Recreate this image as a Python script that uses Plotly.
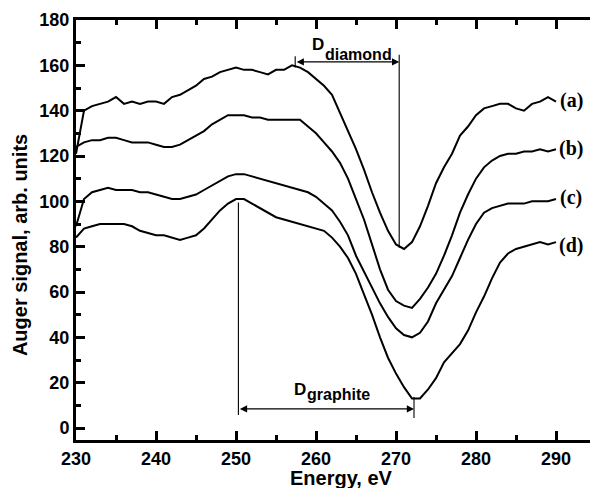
import plotly.graph_objects as go

# ---- data ----
energy = list(range(230, 291))

curve_a = [121, 140, 142, 143, 144, 146, 143, 144, 143, 144,
           144, 143, 146, 147, 149, 151, 154, 155, 157, 158,
           159, 158, 158, 157, 156, 158, 158, 160, 159, 157,
           154, 151, 147, 139, 131, 123, 114, 104, 95, 87,
           81, 79, 82, 89, 98, 108, 115, 121, 129, 133,
           138, 141, 142, 143, 143, 141, 140, 143, 144, 146,
           144]
curve_b = [124, 126, 127, 127, 128, 128, 127, 126, 126, 126,
           125, 124, 124, 125, 127, 129, 131, 134, 136, 138,
           138, 138, 137, 137, 136, 136, 136, 136, 136, 133,
           130, 126, 122, 117, 110, 101, 92, 81, 70, 61,
           56, 54, 53, 57, 62, 68, 76, 85, 95, 103,
           110, 115, 118, 120, 121, 121, 122, 122, 123, 122,
           123]
curve_c = [89, 101, 104, 105, 106, 105, 105, 105, 104, 104,
           103, 102, 101, 101, 102, 103, 105, 107, 109, 111,
           112, 112, 111, 110, 109, 108, 107, 106, 105, 104,
           102, 99, 96, 91, 85, 76, 69, 62, 55, 49,
           44, 41, 40, 42, 47, 55, 61, 67, 75, 83,
           90, 95, 97, 98, 99, 99, 99, 100, 100, 100,
           101]
curve_d = [84, 88, 89, 90, 90, 90, 90, 89, 87, 86,
           85, 85, 84, 83, 84, 85, 88, 92, 96, 99,
           101, 101, 99, 97, 95, 93, 92, 91, 90, 89,
           88, 87, 84, 80, 75, 68, 59, 50, 40, 31,
           24, 18, 13, 13, 17, 22, 29, 33, 37, 43,
           51, 58, 66, 73, 77, 79, 80, 81, 82, 81,
           82]

curve_labels = ["(a)", "(b)", "(c)", "(d)"]
label_x = 291.9
label_y = [144.7, 123.1, 101.5, 80.7]

# D_diamond marker
dia_left, dia_right, dia_arrow_y = 257.4, 270.4, 161.5
dia_line_top, dia_line_bottom = 164.7, 79.5
dia_tick_top, dia_tick_bottom = 164.0, 159.0
# D_graphite marker
gra_left, gra_right, gra_arrow_y = 250.3, 272.25, 8.4
gra_line_top, gra_line_bottom = 99.5, 5.7
gra_tick_top, gra_tick_bottom = 13.7, 4.4

x_range = [230, 294.25]
y_range = [-5.294, 180]

FONT = "Liberation Sans, Arial, sans-serif"

fig = go.Figure()
for vals in (curve_a, curve_b, curve_c, curve_d):
    fig.add_trace(go.Scatter(x=energy, y=vals, mode="lines",
                             line=dict(color="black", width=2),
                             showlegend=False, hoverinfo="skip"))

thin = dict(color="black", width=1.1)
shapes = [
    dict(type="line", xref="x", yref="y", x0=dia_right, x1=dia_right,
         y0=dia_line_bottom, y1=dia_line_top, line=thin),
    dict(type="line", xref="x", yref="y", x0=dia_left, x1=dia_left,
         y0=dia_tick_bottom, y1=dia_tick_top, line=thin),
    dict(type="line", xref="x", yref="y", x0=gra_left, x1=gra_left,
         y0=gra_line_bottom, y1=gra_line_top, line=thin),
    dict(type="line", xref="x", yref="y", x0=gra_right, x1=gra_right,
         y0=gra_tick_bottom, y1=gra_tick_top, line=thin),
]

ann = []
# double-headed arrows
for (x0, x1, yy) in ((dia_left, dia_right, dia_arrow_y), (gra_left, gra_right, gra_arrow_y)):
    ann.append(dict(x=x1, y=yy, ax=x0, ay=yy, xref="x", yref="y", axref="x", ayref="y",
                    text="", showarrow=True, arrowhead=2, arrowsize=1.2, arrowwidth=1.2,
                    arrowside="end+start", arrowcolor="black"))

def txt(x, y, s, size, xref="x", yref="y", angle=0, family=FONT):
    return dict(x=x, y=y, xref=xref, yref=yref, text=s, showarrow=False,
                xanchor="center", yanchor="middle", textangle=angle,
                font=dict(family=family, size=size, color="black", weight="bold"))

ann.append(txt(260.25, 169.4, "D", 17))
ann.append(txt(265.3, 164.8, "diamond", 16))
ann.append(txt(258.0, 17.2, "D", 17))
ann.append(txt(262.8, 14.8, "graphite", 16))

for lab, ly in zip(curve_labels, label_y):
    ann.append(txt(label_x, ly, lab, 20, family="Liberation Serif, Times New Roman, serif"))

ann.append(txt(0.5156, -0.0905, "Energy, eV", 20, xref="paper", yref="paper"))
ann.append(txt(-0.109, 0.464, "Auger signal, arb. units", 20, xref="paper", yref="paper", angle=-90))

axis_common = dict(showline=True, linewidth=3, linecolor="black", ticks="inside",
                   ticklen=9, tickwidth=2.5, tickcolor="black", showgrid=False,
                   zeroline=False, tickfont=dict(family=FONT, size=18, color="black", weight="bold"))

fig.update_layout(
    width=590, height=488,
    margin=dict(l=76, r=0, t=20, b=48),
    paper_bgcolor="white", plot_bgcolor="white",
    shapes=shapes, annotations=ann,
    xaxis=dict(range=x_range, tick0=230, dtick=10, mirror="allticks",
               minor=dict(dtick=5, ticks="inside", ticklen=5, tickwidth=2.5, tickcolor="black"),
               **axis_common),
    yaxis=dict(range=y_range, tick0=0, dtick=20, mirror=False,
               minor=dict(dtick=10, ticks="inside", ticklen=5, tickwidth=2.5, tickcolor="black"),
               **axis_common),
)

fig.write_html("out.html", config={"displayModeBar": False},
               post_script="document.body.style.margin='0px';document.body.style.overflow='hidden';")
